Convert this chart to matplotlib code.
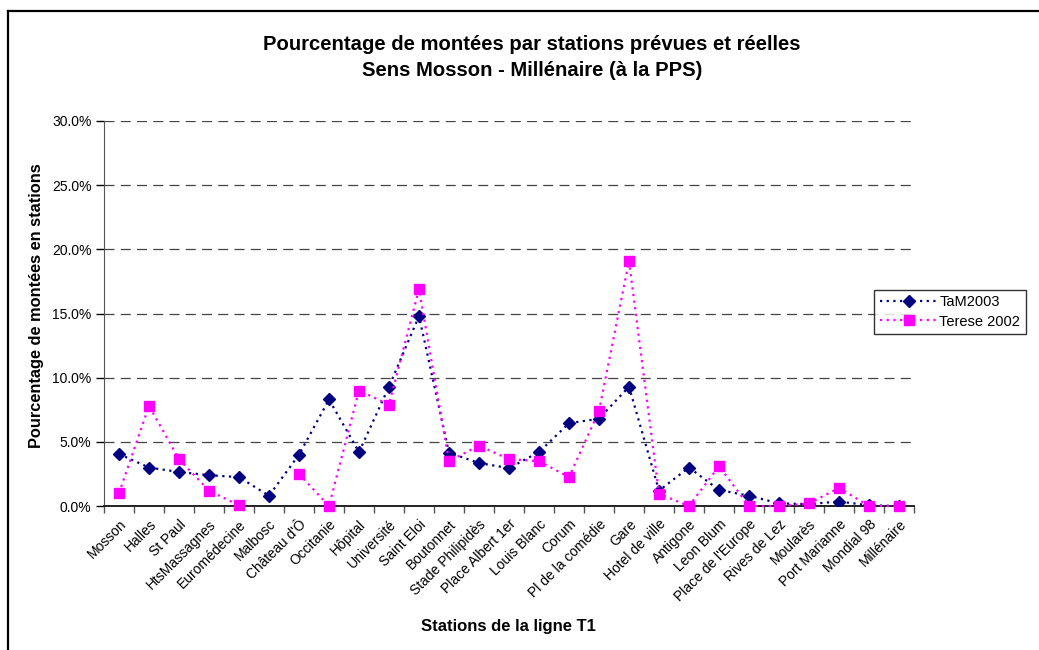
import numpy as np
import matplotlib
matplotlib.use("Agg")
import matplotlib.pyplot as plt
from matplotlib.ticker import FixedLocator, PercentFormatter
from matplotlib.lines import Line2D

plt.rcParams['font.family'] = ['Liberation Sans', 'DejaVu Sans']

stations = ["Mosson", "Halles", "St Paul", "HtsMassagnes", "Euromédecine", "Malbosc",
            "Château d'Ô", "Occitanie", "Hôpital", "Université", "Saint Eloi", "Boutonnet",
            "Stade Philipidès", "Place Albert 1er", "Louis Blanc", "Corum",
            "Pl de la comédie", "Gare", "Hotel de ville", "Antigone", "Leon Blum",
            "Place de l'Europe", "Rives de Lez", "Moularès", "Port Marianne",
            "Mondial 98", "Millénaire"]

tam2003 = [4.05, 3.0, 2.65, 2.4, 2.25, 0.8, 4.0, 8.3, 4.2, 9.3, 14.8, 4.15, 3.35, 2.95,
           4.2, 6.45, 6.8, 9.3, 1.2, 3.0, 1.25, 0.8, 0.2, 0.15, 0.35, 0.05, 0.0]

terese2002 = [1.0, 7.8, 3.65, 1.2, 0.05, np.nan, 2.5, 0.0, 9.0, 7.9, 16.9, 3.5, 4.7, 3.65,
              3.5, 2.25, 7.4, 19.1, 0.95, 0.0, 3.1, 0.0, 0.0, 0.2, 1.4, 0.0, 0.0]

y_ticks = [0, 5, 10, 15, 20, 25, 30]

W, H = 1039, 650
fig = plt.figure(figsize=(W / 100, H / 100), dpi=100)
ax = fig.add_axes([104 / W, (H - 506) / H, 810 / W, 385 / H])

x = np.arange(len(stations))
navy = "#000080"
magenta = "#FF00FF"
dots = (0, (1.0, 2.0))

ax.plot(x, tam2003, linestyle=dots, color=navy, linewidth=1.6,
        marker="D", markersize=6.5, markerfacecolor=navy, markeredgecolor=navy,
        label="TaM2003", zorder=3)
ax.plot(x, terese2002, linestyle=dots, color=magenta, linewidth=1.6,
        marker="s", markersize=7.5, markerfacecolor=magenta, markeredgecolor=magenta,
        label="Terese 2002", zorder=4, clip_on=False)

ax.set_xlim(-0.5, len(stations) - 0.5)
ax.set_ylim(0, 30)

# y axis
ax.yaxis.set_major_locator(FixedLocator(y_ticks))
ax.yaxis.set_major_formatter(PercentFormatter(decimals=1))
ax.tick_params(axis="y", direction="out", length=6, width=1, labelsize=10, pad=3)
ax.grid(axis="y", linestyle=(0, (8, 5)), color="#444444", linewidth=0.9)
ax.set_axisbelow(True)

# x axis: labels at station centres, tick marks between stations
ax.set_xticks(x)
ax.set_xticklabels(stations, rotation=45, ha="right", rotation_mode="anchor", fontsize=10)
ax.tick_params(axis="x", which="major", length=0, pad=8)
ax.set_xticks(np.arange(-0.5, len(stations)), minor=True)
ax.tick_params(axis="x", which="minor", direction="out", length=5, width=1, color="#555555")

for s in ["top", "right"]:
    ax.spines[s].set_visible(False)
ax.spines["left"].set_color("#555555")
ax.spines["bottom"].set_color("#222222")
ax.spines["bottom"].set_linewidth(1.4)

fig.text(532 / W, 1 - 44 / H,
         "Pourcentage de montées par stations prévues et réelles",
         ha="center", va="center", fontsize=14.6, fontweight="bold")
fig.text(532 / W, 1 - 70 / H,
         "Sens Mosson - Millénaire (à la PPS)",
         ha="center", va="center", fontsize=14.6, fontweight="bold")

fig.text(508 / W, 1 - 627 / H, "Stations de la ligne T1",
         ha="center", va="center", fontsize=12, fontweight="bold")
fig.text(37 / W, 1 - 306 / H, "Pourcentage de montées en stations",
         ha="center", va="center", rotation=90, fontsize=11.8, fontweight="bold")

handles = [
    Line2D([], [], linestyle=dots, color=navy, linewidth=1.6, marker="D",
           markersize=6, markerfacecolor=navy, markeredgecolor=navy),
    Line2D([], [], linestyle=dots, color=magenta, linewidth=1.6, marker="s",
           markersize=7, markerfacecolor=magenta, markeredgecolor=magenta),
]
leg = fig.legend(handles, ["TaM2003", "Terese 2002"],
                 loc="center", bbox_to_anchor=(950 / W, 1 - 312 / H),
                 frameon=True, fancybox=False, edgecolor="black", fontsize=10.5,
                 handlelength=4.0, handletextpad=0.1, borderpad=0.4,
                 labelspacing=0.35, borderaxespad=0)
leg.get_frame().set_linewidth(1.0)

# outer chart frame
fig.add_artist(Line2D([8 / W, 8 / W], [0, 1 - 11 / H], transform=fig.transFigure,
                      color="black", linewidth=1.6))
fig.add_artist(Line2D([8 / W, 1], [1 - 11 / H, 1 - 11 / H], transform=fig.transFigure,
                      color="black", linewidth=1.6))

fig.savefig("out.png", dpi=100)
